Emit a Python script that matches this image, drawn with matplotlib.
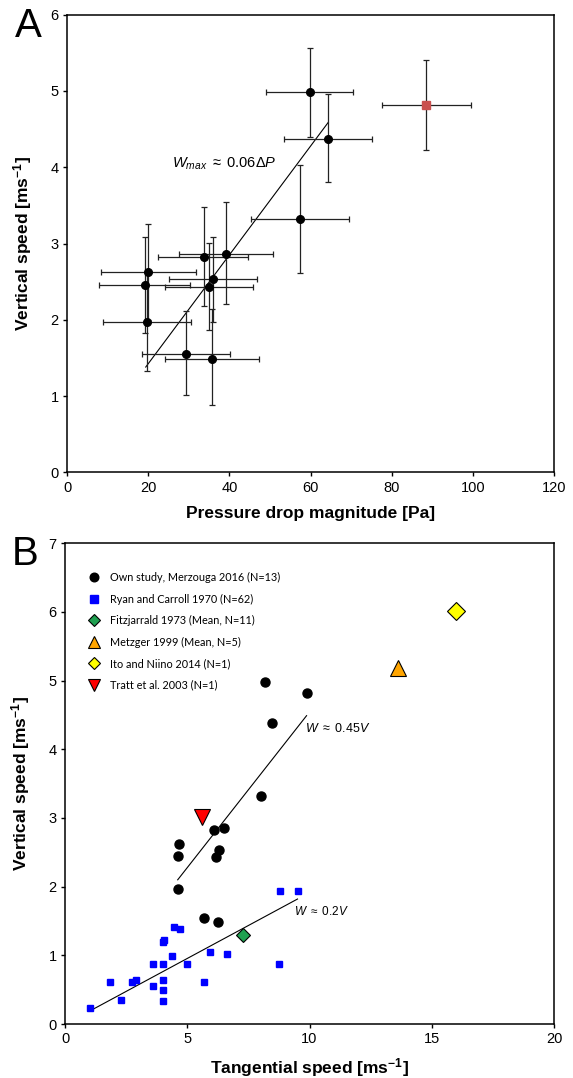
import numpy as np
import matplotlib
matplotlib.use("Agg")
import matplotlib.pyplot as plt

plt.rcParams["font.family"] = ["Liberation Sans", "DejaVu Sans"]
plt.rcParams["mathtext.fontset"] = "custom"
plt.rcParams["mathtext.rm"] = "Liberation Sans"
plt.rcParams["mathtext.it"] = "Liberation Sans:italic"
plt.rcParams["mathtext.bf"] = "Liberation Sans:bold"

# ---- panel A: pressure drop vs vertical speed (own study)
pa_x = [59.8, 64.4, 57.4, 39.2, 33.7, 36.0, 35.0, 20.0, 19.1, 19.6, 29.4, 35.7]
pa_y = [4.98, 4.37, 3.32, 2.86, 2.82, 2.53, 2.43, 2.62, 2.45, 1.97, 1.55, 1.49]
pa_xlo = [49.1, 53.4, 45.4, 27.6, 22.5, 25.2, 24.1, 8.4, 7.9, 8.8, 18.6, 24.2]
pa_xhi = [70.5, 75.2, 69.6, 50.8, 44.7, 46.7, 45.9, 31.7, 30.3, 30.5, 40.1, 47.3]
pa_ylo = [4.40, 3.80, 2.61, 2.21, 2.18, 1.97, 1.87, 2.00, 1.82, 1.33, 1.02, 0.88]
pa_yhi = [5.56, 4.96, 4.03, 3.54, 3.48, 3.09, 3.01, 3.25, 3.09, 2.62, 2.11, 2.14]

# outlier (red square)
out_x = [88.4]
out_y = [4.81]
out_xlo = [77.5]
out_xhi = [99.5]
out_ylo = [4.22]
out_yhi = [5.40]

fit_a_x = [19.4, 64.4]
fit_a_y = [1.38, 4.59]

# ---- panel B: tangential vs vertical speed
own_v = [8.16, 9.88, 8.46, 8.02, 6.52, 6.09, 4.65, 6.30, 4.61, 6.18, 4.64, 5.69, 6.25]
own_w = [4.98, 4.82, 4.38, 3.32, 2.86, 2.82, 2.62, 2.53, 2.45, 2.43, 1.97, 1.55, 1.49]

ryan_v = [1.01, 1.85, 2.30, 2.75, 2.91, 3.61, 3.61, 4.00, 4.00, 4.00, 4.00, 4.00,
          4.06, 4.37, 4.46, 4.71, 4.98, 5.67, 5.94, 6.61, 8.75, 8.81, 9.51]
ryan_w = [0.24, 0.61, 0.35, 0.61, 0.64, 0.88, 0.55, 0.88, 0.64, 0.49, 0.33, 1.19,
          1.22, 0.99, 1.41, 1.39, 0.88, 0.61, 1.05, 1.02, 0.88, 1.94, 1.94]

fitz_v, fitz_w = [7.28], [1.30]
metz_v, metz_w = [13.6], [5.19]
ito_v, ito_w = [16.0], [6.01]
tratt_v, tratt_w = [5.60], [3.01]

fit_045_x = [4.61, 9.88]
fit_045_y = [2.10, 4.49]
fit_02_x = [1.07, 9.51]
fit_02_y = [0.20, 1.82]

fig = plt.figure(figsize=(5.73, 10.78), dpi=100)

W, H = 573, 1078
axA = fig.add_axes([67 / W, 1 - 472.3 / H, 487 / W, 457.6 / H])
axB = fig.add_axes([65 / W, 1 - 1024 / H, 489 / W, 480.7 / H])

def style(ax):
    for s in ax.spines.values():
        s.set_linewidth(1.1)
    ax.tick_params(direction="out", length=3, width=1, labelsize=10.5,
                   top=False, right=False, pad=3)

# ---- panel A
pa_x = np.array(pa_x)
pa_y = np.array(pa_y)
axA.errorbar(pa_x, pa_y,
             xerr=[pa_x - np.array(pa_xlo), np.array(pa_xhi) - pa_x],
             yerr=[pa_y - np.array(pa_ylo), np.array(pa_yhi) - pa_y],
             fmt="o", color="black", ms=5.5, ecolor="#222222",
             elinewidth=0.9, capsize=2, capthick=0.9, zorder=3)
out_x = np.array(out_x)
out_y = np.array(out_y)
axA.errorbar(out_x, out_y,
             xerr=[out_x - np.array(out_xlo), np.array(out_xhi) - out_x],
             yerr=[out_y - np.array(out_ylo), np.array(out_yhi) - out_y],
             fmt="s", color="#C9504F", ms=5.5, ecolor="#222222",
             elinewidth=0.9, capsize=2, capthick=0.9, zorder=3)
axA.plot(fit_a_x, fit_a_y, color="black", lw=0.8, zorder=2)
axA.text(25.9, 4.05, r"$W_{max}$ $\approx$ 0.06$\mathit{\Delta P}$",
         fontsize=10.5, va="center", ha="left")
axA.set_xlim(0, 120)
axA.set_ylim(0, 6)
axA.set_xticks(range(0, 121, 20))
axA.set_yticks(range(0, 7))
style(axA)
axA.set_xlabel("Pressure drop magnitude [Pa]", fontsize=12.5,
               fontweight="bold", labelpad=8)
axA.set_ylabel(r"Vertical speed [ms$^{\mathbf{-1}}$]", fontsize=12.5,
               fontweight="bold", labelpad=12)

# ---- panel B
axB.plot(own_v, own_w, "o", color="black", ms=6.5, zorder=4,
         label="Own study, Merzouga 2016 (N=13)")
axB.plot(ryan_v, ryan_w, "s", color="#0000FF", ms=5, zorder=3,
         label="Ryan and Carroll 1970 (N=62)")
axB.plot(fitz_v, fitz_w, "D", color="#1FA050", mec="black", mew=0.8,
         ms=7.5, zorder=5, label="Fitzjarrald 1973 (Mean, N=11)")
axB.plot(metz_v, metz_w, "^", color="#FFA500", mec="black", mew=0.8,
         ms=11, zorder=5, label="Metzger 1999 (Mean, N=5)")
axB.plot(ito_v, ito_w, "D", color="#FFFF00", mec="black", mew=0.8,
         ms=9, zorder=5, label="Ito and Niino 2014 (N=1)")
axB.plot(tratt_v, tratt_w, "v", color="#FF0000", mec="black", mew=0.8,
         ms=11, zorder=5, label="Tratt et al. 2003 (N=1)")
axB.plot(fit_045_x, fit_045_y, color="black", lw=0.8, zorder=2)
axB.plot(fit_02_x, fit_02_y, color="black", lw=0.8, zorder=2)
axB.text(9.81, 4.31, r"$W$ $\approx$ 0.45$V$", fontsize=9, va="center", ha="left")
axB.text(9.36, 1.64, r"$W$ $\approx$ 0.2$V$", fontsize=8.5, va="center", ha="left")
axB.set_xlim(0, 20)
axB.set_ylim(0, 7)
axB.set_xticks(range(0, 21, 5))
axB.set_yticks(range(0, 8))
style(axB)
axB.set_xlabel(r"Tangential speed [ms$^{\mathbf{-1}}$]", fontsize=12.5,
               fontweight="bold", labelpad=7)
axB.set_ylabel(r"Vertical speed [ms$^{\mathbf{-1}}$]", fontsize=12.5,
               fontweight="bold", labelpad=12)

leg = axB.legend(loc="upper left", bbox_to_anchor=(0.0434, 0.940),
                 frameon=False, borderpad=0, borderaxespad=0,
                 handlelength=1.4, handletextpad=0.8, labelspacing=0.96,
                 prop={"family": "Lato", "size": 7.8})
for h, s in zip(leg.legend_handles, [6.2, 6.0, 6.0, 8.5, 6.0, 8.5]):
    h.set_markersize(s)

fig.text(15 / W, 1 - 37 / H, "A", fontsize=29, ha="left", va="baseline")
fig.text(12 / W, 1 - 565 / H, "B", fontsize=29, ha="left", va="baseline")

fig.savefig("out.png", dpi=100)
